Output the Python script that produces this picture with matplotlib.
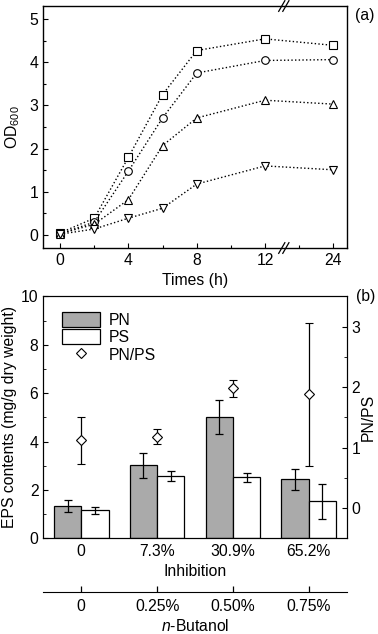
"""
Growth curves (OD600) and EPS contents under n-butanol inhibition.
"""
import matplotlib
matplotlib.use("Agg")
import matplotlib.pyplot as plt
import numpy as np
from matplotlib.lines import Line2D
from matplotlib.transforms import blended_transform_factory

plt.rcParams["font.family"] = ["Liberation Sans", "DejaVu Sans"]
plt.rcParams["font.size"] = 11.3
plt.rcParams["mathtext.fontset"] = "custom"
plt.rcParams["mathtext.rm"] = "Liberation Sans"
plt.rcParams["mathtext.it"] = "Liberation Sans:italic"

# panel (a) data
times = [0, 2, 4, 6, 8, 12, 24]
od_square = [0.05, 0.39, 1.80, 3.25, 4.27, 4.54, 4.39]
od_circle = [0.03, 0.30, 1.48, 2.71, 3.75, 4.04, 4.06]
od_up = [0.03, 0.25, 0.82, 2.07, 2.71, 3.12, 3.03]
od_down = [0.02, 0.14, 0.39, 0.62, 1.18, 1.60, 1.51]
time_ticks = [0, 4, 8, 12, 24]

# panel (b) data
inhibition = ["0", "7.3%", "30.9%", "65.2%"]
butanol = ["0", "0.25%", "0.50%", "0.75%"]
pn = [1.34, 3.02, 5.02, 2.44]
pn_err = [0.25, 0.51, 0.71, 0.44]
ps = [1.16, 2.58, 2.52, 1.53]
ps_err = [0.14, 0.21, 0.19, 0.73]
ratio = [1.12, 1.18, 1.98, 1.88]
ratio_err = [0.39, 0.12, 0.14, 1.18]


def time_pos(t):
    # broken axis: 0-12 h linear, 12-24 h squeezed into 4 units
    t = np.asarray(t, dtype=float)
    return np.where(t <= 12, t, 12 + (t - 12) / 3)


def slash(ax, x, y):
    bt = blended_transform_factory(ax.transData, ax.transAxes)
    for dx in (-0.12, 0.12):
        ax.plot([x + dx - 0.18, x + dx + 0.18], [y - 0.022, y + 0.022],
                color="black", lw=0.9, transform=bt, clip_on=False)


fig = plt.figure(figsize=(3.78, 6.34), dpi=100)

# ---- panel (a)
ax = fig.add_axes([0.1138, 0.6088, 0.8042, 0.3817])
pos = time_pos(times)
for ys, m in [(od_square, "s"), (od_circle, "o"), (od_up, "^"), (od_down, "v")]:
    ax.plot(pos, ys, linestyle=":", color="black", lw=1.0, marker=m,
            markersize=5.5, markerfacecolor="white", markeredgecolor="black",
            markeredgewidth=0.8)
ax.set_xlim(-1, 16.8)
ax.set_ylim(-0.3, 5.3)
ax.set_xticks(time_pos(time_ticks))
ax.set_xticklabels([str(t) for t in time_ticks])
ax.set_xticks([2, 6, 10, 14], minor=True)
ax.set_yticks(range(6))
ax.set_yticks(np.arange(0.5, 5.0, 1.0), minor=True)
ax.tick_params(which="both", direction="in", top=False, right=False)
ax.tick_params(which="major", length=3.5, width=0.8)
ax.tick_params(which="minor", length=2, width=0.8)
for s in ax.spines.values():
    s.set_linewidth(1.0)
ax.set_xlabel("Times (h)", labelpad=4)
ax.set_ylabel("OD$_{600}$", labelpad=5)
slash(ax, 13.1, 0.0)
slash(ax, 13.1, 1.0)
fig.text(0.965, 0.976, "(a)", ha="center", va="center")

# ---- panel (b)
bx = fig.add_axes([0.1146, 0.151, 0.8026, 0.3814])
x = np.arange(len(inhibition))
w = 0.36
ekw = dict(ecolor="black", elinewidth=0.9, capsize=3, capthick=0.9)
bx.bar(x - w / 2, pn, w, yerr=pn_err, color="#aaaaaa", edgecolor="black",
       linewidth=0.9, error_kw=ekw, label="PN")
bx.bar(x + w / 2, ps, w, yerr=ps_err, color="white", edgecolor="black",
       linewidth=0.9, error_kw=ekw, label="PS")
bx.set_xlim(-0.5, 3.5)
bx.set_ylim(0, 10)
bx.set_xticks(x)
bx.set_xticklabels(inhibition)
bx.set_yticks(range(0, 11, 2))
bx.set_yticks(range(1, 10, 2), minor=True)
bx.tick_params(axis="x", length=0, pad=4)
bx.tick_params(axis="y", which="both", direction="in")
bx.tick_params(axis="y", which="major", length=3.5)
bx.tick_params(axis="y", which="minor", length=2)
bx.set_xlabel("Inhibition", labelpad=4)
bx.set_ylabel("EPS contents (mg/g dry weight)", labelpad=3)

rx = bx.twinx()
rx.errorbar(x, ratio, yerr=ratio_err, fmt="D", markersize=5,
            markerfacecolor="white", markeredgecolor="black",
            markeredgewidth=0.8, **ekw)
rx.set_ylim(-0.5, 3.5)
rx.set_yticks([0, 1, 2, 3])
rx.set_yticks([-0.5, 0.5, 1.5, 2.5], minor=True)
rx.tick_params(which="both", direction="in")
rx.tick_params(which="major", length=3.5)
rx.tick_params(which="minor", length=2)
rx.set_ylabel("PN/PS", labelpad=0.5)

h1, l1 = bx.get_legend_handles_labels()
diamond = Line2D([], [], linestyle="none", marker="D", markersize=5,
                 markerfacecolor="white", markeredgecolor="black",
                 markeredgewidth=0.8)
rx.legend(h1 + [diamond], l1 + ["PN/PS"], loc="upper left",
          bbox_to_anchor=(0.03, 0.975), frameon=False, handlelength=2.4,
          handleheight=1.1, handletextpad=0.6, labelspacing=0.1,
          borderaxespad=0.2)

sec = bx.secondary_xaxis(-0.221)
sec.set_xticks(x)
sec.set_xticklabels(butanol)
sec.tick_params(direction="in", length=4.5, width=0.9, pad=5)
sec.set_xlabel("$n$-Butanol", labelpad=3)

fig.text(0.968, 0.532, "(b)", ha="center", va="center")

fig.savefig("out.png", dpi=100)
